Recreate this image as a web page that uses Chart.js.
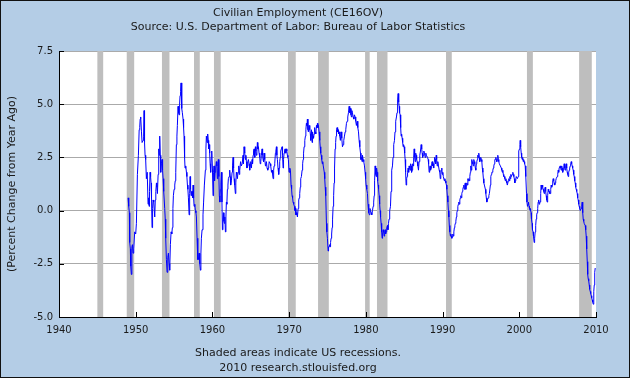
<!DOCTYPE html>
<html lang="en">
<head>
<meta charset="UTF-8">
<title>Civilian Employment (CE16OV)</title>
<script src="https://cdn.jsdelivr.net/npm/chart.js"></script>
<style>
  html, body { margin: 0; padding: 0; background: #b4cde6; }
  canvas { display: block; }
</style>
</head>
<body>
<canvas id="employmentChart" width="630" height="378"></canvas>
<script>
// percent change from year ago (decimal years)
const years = [
  1949.00, 1949.09, 1949.17, 1949.22, 1949.30, 1949.35, 1949.43, 1949.50, 1949.57, 1949.65, 1949.74, 1949.87,
  1950.00, 1950.09, 1950.22, 1950.35, 1950.45, 1950.52, 1950.58, 1950.65, 1950.75, 1950.83, 1950.96,
  1951.03, 1951.09, 1951.15, 1951.22, 1951.30, 1951.39, 1951.50, 1951.61, 1951.68, 1951.74, 1951.80, 1951.87, 1951.94,
  1952.00, 1952.06, 1952.13, 1952.20, 1952.26, 1952.35, 1952.48, 1952.55, 1952.62, 1952.70, 1952.76, 1952.83, 1952.92,
  1953.00, 1953.06, 1953.13, 1953.20, 1953.26, 1953.35, 1953.43, 1953.50, 1953.57, 1953.65, 1953.78, 1953.85, 1953.91,
  1954.00, 1954.09, 1954.18, 1954.26, 1954.35, 1954.43, 1954.52, 1954.61, 1954.70, 1954.78, 1954.85, 1954.91,
  1955.00, 1955.09, 1955.15, 1955.22, 1955.30, 1955.37, 1955.43, 1955.52, 1955.58, 1955.65, 1955.72, 1955.78, 1955.85, 1955.91,
  1956.00, 1956.08, 1956.17, 1956.24, 1956.30, 1956.37, 1956.43, 1956.52, 1956.61, 1956.67, 1956.74, 1956.80, 1956.87, 1956.96,
  1957.03, 1957.09, 1957.15, 1957.22, 1957.28, 1957.35, 1957.42, 1957.48, 1957.55, 1957.61, 1957.70, 1957.78, 1957.85, 1957.91,
  1958.00, 1958.09, 1958.18, 1958.26, 1958.35, 1958.43, 1958.50, 1958.56, 1958.65, 1958.77, 1958.85, 1958.95,
  1959.08, 1959.15, 1959.21, 1959.30, 1959.38, 1959.45, 1959.51, 1959.58, 1959.64, 1959.70, 1959.77, 1959.85, 1959.91,
  1960.00, 1960.08, 1960.15, 1960.21, 1960.28, 1960.34, 1960.42, 1960.51, 1960.58, 1960.64, 1960.70, 1960.77, 1960.84, 1960.90, 1960.97,
  1961.04, 1961.10, 1961.17, 1961.24, 1961.30, 1961.37, 1961.43, 1961.50, 1961.56, 1961.62, 1961.69, 1961.76, 1961.82, 1961.88, 1961.95,
  1962.02, 1962.08, 1962.17, 1962.25, 1962.32, 1962.38, 1962.47, 1962.56, 1962.62, 1962.69, 1962.76, 1962.82, 1962.90, 1962.99,
  1963.05, 1963.12, 1963.18, 1963.25, 1963.34, 1963.43, 1963.50, 1963.56, 1963.67, 1963.77, 1963.88, 1963.99,
  1964.05, 1964.12, 1964.21, 1964.30, 1964.36, 1964.43, 1964.50, 1964.56, 1964.62, 1964.69, 1964.78, 1964.86, 1964.92, 1964.99,
  1965.08, 1965.17, 1965.23, 1965.30, 1965.36, 1965.43, 1965.52, 1965.60, 1965.66, 1965.73, 1965.80, 1965.86, 1965.92, 1965.99,
  1966.08, 1966.17, 1966.23, 1966.30, 1966.38, 1966.47, 1966.54, 1966.60, 1966.66, 1966.73, 1966.82, 1966.91, 1966.98,
  1967.04, 1967.12, 1967.21, 1967.28, 1967.34, 1967.40, 1967.47, 1967.54, 1967.60, 1967.70, 1967.77, 1967.84, 1967.91, 1967.98,
  1968.04, 1968.12, 1968.21, 1968.27, 1968.34, 1968.40, 1968.47, 1968.55, 1968.64, 1968.70, 1968.77, 1968.84, 1968.90, 1968.99,
  1969.08, 1969.14, 1969.21, 1969.27, 1969.34, 1969.40, 1969.47, 1969.56, 1969.64, 1969.70, 1969.77, 1969.84, 1969.90, 1969.99,
  1970.08, 1970.17, 1970.25, 1970.32, 1970.38, 1970.45, 1970.51, 1970.60, 1970.69, 1970.76, 1970.82, 1970.88, 1970.95,
  1971.02, 1971.08, 1971.17, 1971.25, 1971.32, 1971.38, 1971.45, 1971.51, 1971.60, 1971.69, 1971.76, 1971.82, 1971.88, 1971.95,
  1972.04, 1972.12, 1972.18, 1972.25, 1972.32, 1972.38, 1972.45, 1972.51, 1972.60, 1972.69, 1972.76, 1972.82, 1972.90, 1972.99,
  1973.05, 1973.12, 1973.18, 1973.25, 1973.32, 1973.38, 1973.47, 1973.56, 1973.62, 1973.69, 1973.75, 1973.82, 1973.90, 1973.99,
  1974.05, 1974.12, 1974.18, 1974.25, 1974.32, 1974.38, 1974.45, 1974.51, 1974.58, 1974.64, 1974.70, 1974.77, 1974.86, 1974.92, 1974.99,
  1975.08, 1975.14, 1975.21, 1975.28, 1975.34, 1975.40, 1975.47, 1975.54, 1975.60, 1975.66, 1975.73, 1975.80, 1975.86, 1975.92, 1975.99,
  1976.06, 1976.12, 1976.18, 1976.25, 1976.32, 1976.38, 1976.44, 1976.51, 1976.60, 1976.68, 1976.77, 1976.86, 1976.95,
  1977.04, 1977.12, 1977.21, 1977.30, 1977.38, 1977.47, 1977.56, 1977.64, 1977.73, 1977.82, 1977.90, 1977.99,
  1978.06, 1978.12, 1978.18, 1978.25, 1978.34, 1978.43, 1978.51, 1978.60, 1978.68, 1978.77, 1978.86, 1978.95,
  1979.04, 1979.12, 1979.21, 1979.30, 1979.36, 1979.43, 1979.50, 1979.56, 1979.64, 1979.73, 1979.82, 1979.90, 1979.97,
  1980.03, 1980.12, 1980.21, 1980.28, 1980.34, 1980.40, 1980.47, 1980.54, 1980.60, 1980.68, 1980.77, 1980.86, 1980.95,
  1981.02, 1981.08, 1981.14, 1981.21, 1981.28, 1981.34, 1981.40, 1981.47, 1981.54, 1981.60, 1981.66, 1981.73, 1981.80, 1981.86, 1981.92, 1981.99,
  1982.06, 1982.12, 1982.18, 1982.25, 1982.32, 1982.38, 1982.45, 1982.51, 1982.58, 1982.64, 1982.72, 1982.82, 1982.88, 1982.95,
  1983.02, 1983.08, 1983.14, 1983.21, 1983.28, 1983.34, 1983.40, 1983.47, 1983.54, 1983.60, 1983.66, 1983.73, 1983.80, 1983.86, 1983.92, 1983.99,
  1984.06, 1984.12, 1984.16, 1984.21, 1984.28, 1984.34, 1984.40, 1984.47, 1984.54, 1984.60, 1984.66, 1984.73, 1984.80, 1984.86, 1984.92, 1984.99,
  1985.06, 1985.12, 1985.18, 1985.25, 1985.32, 1985.38, 1985.44, 1985.51, 1985.58, 1985.64, 1985.70, 1985.77, 1985.84, 1985.90, 1985.96,
  1986.03, 1986.10, 1986.17, 1986.23, 1986.30, 1986.36, 1986.43, 1986.50, 1986.56, 1986.62, 1986.69, 1986.78, 1986.86, 1986.94,
  1987.03, 1987.12, 1987.21, 1987.28, 1987.34, 1987.40, 1987.47, 1987.56, 1987.64, 1987.73, 1987.82, 1987.88, 1987.95,
  1988.04, 1988.12, 1988.18, 1988.25, 1988.32, 1988.38, 1988.44, 1988.51, 1988.58, 1988.64, 1988.70, 1988.77, 1988.84, 1988.90, 1988.96,
  1989.03, 1989.10, 1989.17, 1989.23, 1989.30, 1989.38, 1989.47, 1989.56, 1989.64, 1989.70, 1989.77, 1989.84, 1989.90, 1989.96,
  1990.03, 1990.10, 1990.17, 1990.23, 1990.30, 1990.36, 1990.43, 1990.50, 1990.56, 1990.62, 1990.69, 1990.76, 1990.82, 1990.88, 1990.95,
  1991.02, 1991.08, 1991.14, 1991.21, 1991.28, 1991.34, 1991.40, 1991.47, 1991.54, 1991.60, 1991.66, 1991.73, 1991.80, 1991.86, 1991.92, 1991.99,
  1992.06, 1992.12, 1992.18, 1992.25, 1992.32, 1992.38, 1992.44, 1992.51, 1992.58, 1992.64, 1992.70, 1992.77, 1992.84, 1992.90, 1992.96,
  1993.03, 1993.10, 1993.17, 1993.23, 1993.30, 1993.36, 1993.43, 1993.49, 1993.55, 1993.62, 1993.68, 1993.74, 1993.81, 1993.88, 1993.94,
  1994.00, 1994.07, 1994.14, 1994.20, 1994.27, 1994.33, 1994.40, 1994.46, 1994.53, 1994.59, 1994.66, 1994.72, 1994.79, 1994.85, 1994.92, 1994.98,
  1995.05, 1995.12, 1995.18, 1995.25, 1995.32, 1995.38, 1995.45, 1995.51, 1995.58, 1995.64, 1995.70, 1995.77, 1995.84, 1995.90, 1995.96,
  1996.03, 1996.10, 1996.16, 1996.23, 1996.29, 1996.36, 1996.42, 1996.49, 1996.55, 1996.62, 1996.68, 1996.75, 1996.81, 1996.88, 1996.94,
  1997.01, 1997.07, 1997.14, 1997.20, 1997.27, 1997.33, 1997.40, 1997.46, 1997.53, 1997.59, 1997.66, 1997.72, 1997.79, 1997.85, 1997.92, 1997.98,
  1998.05, 1998.12, 1998.18, 1998.25, 1998.31, 1998.38, 1998.44, 1998.51, 1998.57, 1998.64, 1998.70, 1998.77, 1998.83, 1998.90, 1998.96,
  1999.03, 1999.09, 1999.16, 1999.22, 1999.29, 1999.35, 1999.42, 1999.48, 1999.55, 1999.61, 1999.68, 1999.74, 1999.81, 1999.86, 1999.90, 1999.96,
  2000.03, 2000.08, 2000.12, 2000.18, 2000.25, 2000.31, 2000.38, 2000.44, 2000.51, 2000.57, 2000.64, 2000.70, 2000.77, 2000.85, 2000.94,
  2001.00, 2001.07, 2001.14, 2001.20, 2001.27, 2001.33, 2001.40, 2001.46, 2001.53, 2001.59, 2001.66, 2001.72, 2001.79, 2001.85, 2001.94,
  2002.00, 2002.07, 2002.14, 2002.20, 2002.27, 2002.33, 2002.40, 2002.46, 2002.53, 2002.59, 2002.66, 2002.72, 2002.79, 2002.85, 2002.92, 2002.98,
  2003.05, 2003.12, 2003.18, 2003.25, 2003.31, 2003.38, 2003.44, 2003.51, 2003.57, 2003.64, 2003.70, 2003.77, 2003.84, 2003.90, 2003.97,
  2004.03, 2004.10, 2004.16, 2004.23, 2004.29, 2004.36, 2004.42, 2004.49, 2004.55, 2004.62, 2004.68, 2004.75, 2004.81, 2004.88, 2004.94,
  2005.01, 2005.07, 2005.14, 2005.20, 2005.27, 2005.33, 2005.40, 2005.46, 2005.53, 2005.59, 2005.66, 2005.72, 2005.79, 2005.85, 2005.92, 2005.98,
  2006.05, 2006.12, 2006.18, 2006.25, 2006.31, 2006.38, 2006.44, 2006.51, 2006.57, 2006.64, 2006.70, 2006.77, 2006.83, 2006.90, 2006.96,
  2007.03, 2007.10, 2007.16, 2007.23, 2007.29, 2007.36, 2007.42, 2007.49, 2007.55, 2007.62, 2007.68, 2007.75, 2007.81, 2007.88, 2007.94,
  2008.01, 2008.07, 2008.14, 2008.20, 2008.27, 2008.33, 2008.40, 2008.46, 2008.53, 2008.59, 2008.66, 2008.72, 2008.77, 2008.81, 2008.86, 2008.90, 2008.94, 2008.98,
  2009.05, 2009.12, 2009.18, 2009.25, 2009.31, 2009.38, 2009.44, 2009.51, 2009.57, 2009.64, 2009.70, 2009.72, 2009.77, 2009.81, 2009.86, 2009.90
];
const pctChange = [
  0.6, 0.2, -0.1, -1.5, -1.8, -2.6, -3.0, -1.7, -1.6, -2.0, -1.8, -1.0,
  -1.1, -0.6, 1.7, 2.6, 3.8, 3.9, 4.3, 4.4, 3.7, 3.2, 3.3,
  3.5, 4.7, 3.2, 2.6, 2.4, 1.5, 1.8, 0.3, 0.6, 0.2, 0.9, 1.8, 1.6,
  1.3, 0.6, -0.8, 0.1, 0.5, 0.4, -0.3, 0.5, 0.9, 1.3, 1.1, 0.8, 1.7,
  2.9, 2.6, 3.5, 2.6, 1.8, 2.2, 2.4, 1.9, 1.5, 0.9, 0.1, -0.4, -1.3,
  -2.3, -2.9, -2.2, -2.0, -2.5, -2.8, -1.6, -1.0, -1.1, -0.8, 0.1, 0.7,
  1.0, 1.2, 1.4, 1.8, 3.1, 3.5, 4.0, 4.9, 4.6, 4.5, 5.0, 5.4, 5.6, 6.0,
  4.8, 4.6, 4.3, 3.9, 3.5, 2.5, 2.0, 2.1, 1.8, 1.6, 1.2, 1.0, 0.6, -0.2,
  0.8, 1.6, 1.0, 0.7, 0.9, 0.9, 0.6, 1.2, 0.6, 0.2, 0.3, 0.0, -0.1, -0.3,
  -1.3, -2.3, -2.3, -2.0, -2.5, -2.8, -2.0, -1.3, -0.9, -0.2, 0.4, 1.2,
  1.9, 2.9, 3.5, 3.2, 3.6, 3.3, 2.9, 3.1, 2.7, 2.2, 1.8, 2.5, 2.8,
  2.0, 0.7, 1.8, 2.1, 1.4, 1.8, 2.0, 2.3, 2.1, 1.5, 1.9, 2.4, 1.6, 0.7, 0.4,
  1.0, 1.3, 1.8, 0.4, -0.9, -0.4, -0.1, -0.5, -0.6, -0.3, -1.0, -0.3, 0.4, 0.3, 1.0,
  1.2, 1.5, 1.6, 1.9, 1.6, 1.2, 1.4, 1.8, 2.1, 2.5, 2.0, 1.5, 1.2, 0.8,
  1.3, 1.8, 1.7, 1.5, 1.8, 2.1, 1.7, 1.9, 2.3, 2.1, 2.2, 2.6,
  2.2, 3.0, 2.7, 2.4, 2.6, 2.3, 2.0, 2.1, 2.3, 2.4, 2.2, 1.9, 2.1, 2.3,
  2.0, 2.4, 2.2, 2.6, 2.8, 2.9, 2.5, 3.0, 2.8, 2.6, 2.8, 3.2, 2.9, 3.0,
  2.7, 2.5, 2.2, 2.3, 2.6, 2.9, 2.6, 2.4, 2.3, 2.7, 2.4, 2.1, 2.2,
  2.3, 2.0, 1.9, 2.0, 2.1, 2.3, 2.3, 2.2, 2.1, 1.8, 1.9, 1.7, 1.5, 1.9,
  2.1, 2.2, 2.7, 2.8, 3.0, 2.6, 2.4, 2.0, 1.7, 2.0, 2.3, 2.5, 2.8, 2.9,
  3.0, 2.6, 2.0, 2.4, 2.7, 2.8, 2.9, 2.7, 2.9, 2.8, 2.6, 2.5, 2.4, 1.8,
  2.0, 1.9, 1.2, 1.0, 0.7, 0.6, 0.4, 0.3, 0.2, 0.0, 0.1, -0.2, -0.1,
  -0.2, -0.3, 0.1, 0.5, 0.6, 0.8, 1.1, 1.5, 1.6, 1.9, 2.2, 2.4, 2.7, 3.0,
  3.3, 3.5, 3.8, 4.1, 4.0, 4.3, 3.8, 3.7, 4.0, 3.8, 3.6, 3.3, 3.8, 3.2,
  3.7, 3.5, 3.4, 3.6, 3.9, 3.7, 3.6, 4.0, 3.9, 4.1, 3.9, 4.0, 3.7, 3.3,
  3.0, 2.7, 2.6, 2.4, 2.2, 2.3, 2.1, 2.1, 1.8, 1.5, 1.1, 0.7, -0.6, -1.0, -1.3,
  -1.9, -1.7, -1.7, -1.6, -1.7, -1.5, -1.3, -1.1, -0.8, -0.4, 0.2, 0.7, 1.3, 2.0, 2.9,
  3.2, 3.5, 3.8, 3.9, 3.7, 3.8, 3.6, 3.7, 3.5, 3.3, 3.7, 3.4, 3.0,
  3.1, 3.3, 3.5, 3.7, 3.8, 4.1, 4.2, 4.4, 4.6, 4.9, 4.6, 4.8,
  4.5, 4.4, 4.7, 4.6, 4.4, 4.3, 4.5, 4.4, 4.2, 4.0, 4.2, 3.9,
  3.7, 3.3, 3.0, 2.7, 2.4, 2.5, 2.3, 2.6, 2.4, 2.3, 2.1, 1.8, 1.5,
  1.2, 1.0, 0.8, 0.3, 0.1, -0.1, -0.2, 0.1, 0.0, -0.1, -0.2, 0.0, 0.2,
  0.4, 0.7, 1.4, 2.1, 1.7, 1.6, 2.0, 1.8, 1.4, 1.2, 1.0, 0.7, 0.3, 0.0, -0.3, -0.6,
  -1.0, -1.3, -1.1, -0.9, -1.0, -1.2, -1.0, -0.9, -1.1, -1.0, -0.8, -0.7, -0.9, -0.6,
  -0.4, -0.1, 0.0, 0.2, 0.9, 1.5, 1.9, 2.1, 2.5, 2.9, 3.1, 3.3, 3.7, 4.0, 4.2, 4.4,
  4.6, 4.9, 5.2, 5.5, 5.1, 4.9, 4.6, 4.5, 3.9, 3.5, 3.6, 3.4, 3.2, 3.0, 3.1, 3.0,
  2.7, 2.4, 1.8, 1.2, 1.5, 1.6, 1.8, 2.0, 1.8, 2.1, 2.0, 1.9, 2.2, 2.1, 1.8,
  1.9, 2.2, 2.1, 2.5, 2.9, 2.5, 2.3, 2.7, 2.6, 2.4, 2.3, 2.1, 1.9, 2.3,
  2.6, 2.8, 3.1, 2.9, 2.7, 2.5, 2.6, 2.8, 2.7, 2.5, 2.7, 2.6, 2.6,
  2.5, 2.4, 2.2, 1.8, 2.0, 2.1, 1.9, 2.0, 2.2, 2.3, 2.1, 2.2, 2.0, 2.3, 2.5,
  2.4, 2.2, 2.6, 2.4, 2.1, 2.3, 2.1, 1.9, 1.8, 1.5, 1.7, 1.9, 2.0, 1.7,
  1.8, 1.6, 1.6, 1.4, 1.5, 1.4, 1.3, 1.2, 1.0, 0.7, 0.4, 0.0, -0.3, -0.7, -1.0,
  -1.2, -1.1, -1.2, -1.3, -1.2, -1.1, -1.2, -1.0, -0.8, -0.7, -0.6, -0.5, -0.3, -0.1, 0.0, 0.2,
  0.3, 0.4, 0.3, 0.5, 0.6, 0.7, 0.6, 0.8, 0.9, 1.0, 1.1, 1.2, 1.0, 1.2, 1.3,
  1.0, 1.2, 1.3, 1.2, 1.5, 1.4, 1.5, 1.4, 1.6, 1.8, 2.1, 1.9, 2.4, 2.2, 2.3,
  2.1, 2.4, 2.3, 2.2, 2.0, 1.9, 2.2, 2.3, 2.4, 2.6, 2.5, 2.7, 2.5, 2.3, 2.4, 2.5,
  2.4, 2.3, 2.0, 1.8, 1.5, 1.3, 1.2, 1.2, 1.0, 0.8, 0.6, 0.4, 0.5, 0.5, 0.6,
  0.7, 0.8, 0.8, 1.2, 1.6, 1.7, 1.8, 1.8, 1.9, 2.0, 2.1, 2.2, 2.4, 2.4, 2.5,
  2.4, 2.3, 2.4, 2.6, 2.4, 2.3, 2.2, 2.2, 2.1, 2.1, 2.0, 1.9, 1.8, 1.9, 1.7, 1.6,
  1.6, 1.5, 1.4, 1.5, 1.4, 1.3, 1.2, 1.2, 1.4, 1.5, 1.4, 1.6, 1.5, 1.7, 1.6,
  1.6, 1.7, 1.8, 1.7, 1.6, 1.5, 1.3, 1.4, 1.5, 1.6, 1.6, 1.5, 1.5, 1.6, 2.7, 2.8,
  2.9, 3.1, 3.3, 3.0, 2.7, 2.5, 2.4, 2.5, 2.3, 2.4, 2.3, 2.2, 2.1, 1.6, 0.8,
  0.4, 0.2, 0.3, 0.4, 0.2, 0.1, 0.0, 0.1, -0.1, -0.4, -0.6, -0.9, -1.0, -1.2, -1.5,
  -1.3, -1.0, -0.7, -0.4, -0.2, -0.1, 0.1, 0.4, 0.5, 0.3, 0.4, 0.4, 0.8, 1.2, 1.0, 1.2,
  1.1, 1.0, 0.9, 0.8, 1.0, 1.1, 0.9, 0.7, 0.5, 0.4, 0.7, 1.0, 0.9, 0.9, 0.8,
  0.8, 1.0, 1.2, 1.1, 1.2, 1.4, 1.5, 1.4, 1.3, 1.2, 1.3, 1.4, 1.5, 1.5, 1.6,
  1.7, 1.9, 1.8, 2.0, 2.0, 2.1, 2.0, 1.9, 2.1, 2.0, 1.8, 1.9, 2.0, 2.2, 2.0, 1.9,
  2.1, 2.2, 2.0, 1.8, 1.7, 1.6, 1.8, 1.9, 2.0, 2.1, 2.2, 2.3, 2.2, 2.1, 2.0,
  1.9, 1.7, 1.6, 1.4, 1.3, 1.1, 1.0, 0.9, 0.8, 0.6, 0.5, 0.3, 0.2, 0.1, 0.0,
  0.0, 0.1, 0.2, 0.4, -0.1, -0.4, -0.5, -0.6, -0.6, -0.7, -0.9, -1.2, -1.5, -1.8, -2.4, -2.9, -3.0, -3.2,
  -3.3, -3.5, -3.7, -3.8, -3.9, -4.0, -4.1, -4.2, -4.3, -4.4, -4.2, -3.8, -3.5, -3.2, -2.9, -2.7
];

// NBER recessions as shaded on the chart
const recessionStart = [1945.0, 1948.83, 1953.42, 1957.6, 1960.2, 1969.85, 1973.77, 1979.9, 1981.45, 1990.45, 2001.0, 2007.8];
const recessionEnd   = [1945.76, 1949.8, 1954.4, 1958.35, 1961.08, 1970.86, 1975.17, 1980.5, 1982.82, 1991.2, 2001.77, 2009.45];

const xTickYears = [1940, 1950, 1960, 1970, 1980, 1990, 2000, 2010];
const yTickValues = [-5, -2.5, 0, 2.5, 5, 7.5];

const fontFamily = "'DejaVu Sans', Verdana, sans-serif";
const textColor = '#1a1a1a';

// background, recession bars, inside tick marks, outer frame
const fredFrame = {
    id: 'fredFrame',
    beforeDraw(chart) {
        const { ctx, chartArea: a, width, height } = chart;
        ctx.save();
        ctx.fillStyle = '#b4cde6';
        ctx.fillRect(0, 0, width, height);
        ctx.fillStyle = '#ffffff';
        ctx.fillRect(a.left, a.top, a.right - a.left, a.bottom - a.top);
        ctx.restore();
    },
    beforeDatasetsDraw(chart) {
        const { ctx, chartArea: a, scales: { x, y } } = chart;
        ctx.save();
        ctx.fillStyle = '#bebebe';
        recessionStart.forEach((s, i) => {
            const x0 = x.getPixelForValue(s);
            const x1 = x.getPixelForValue(recessionEnd[i]);
            ctx.fillRect(x0, a.top, x1 - x0, a.bottom - a.top);
        });
        ctx.strokeStyle = '#000000';
        ctx.lineWidth = 1;
        ctx.beginPath();
        xTickYears.forEach(v => {
            const px = Math.round(x.getPixelForValue(v)) + 0.5;
            ctx.moveTo(px, a.bottom);
            ctx.lineTo(px, a.bottom - 5);
        });
        yTickValues.forEach(v => {
            const py = Math.round(y.getPixelForValue(v)) + 0.5;
            ctx.moveTo(a.left, py);
            ctx.lineTo(a.left + 5, py);
        });
        ctx.stroke();
        ctx.restore();
    },
    afterDraw(chart) {
        const { ctx, width, height } = chart;
        ctx.save();
        ctx.strokeStyle = '#111111';
        ctx.lineWidth = 1;
        ctx.strokeRect(0.5, 0.5, width - 1, height - 1);
        ctx.restore();
    }
};

const points = years.map((yr, i) => ({ x: yr, y: pctChange[i] }));

const ctx = document.getElementById('employmentChart').getContext('2d');
new Chart(ctx, {
    type: 'line',
    data: {
        datasets: [{
            data: points,
            borderColor: '#0000ff',
            borderWidth: 1,
            pointRadius: 0,
            tension: 0,
            fill: false
        }]
    },
    options: {
        responsive: false,
        animation: false,
        layout: { padding: { left: 0, right: 34, top: 0, bottom: 0 } },
        plugins: {
            legend: { display: false },
            tooltip: { enabled: false },
            title: {
                display: true,
                text: ['Civilian Employment (CE16OV)', 'Source: U.S. Department of Labor: Bureau of Labor Statistics'],
                color: textColor,
                font: { family: fontFamily, size: 11, weight: 'normal', lineHeight: 14 / 11 },
                padding: { top: 6, bottom: 17 }
            },
            subtitle: {
                display: true,
                position: 'bottom',
                text: ['Shaded areas indicate US recessions.', '2010 research.stlouisfed.org'],
                color: textColor,
                font: { family: fontFamily, size: 11, weight: 'normal', lineHeight: 15 / 11 },
                padding: { top: 3.5, bottom: 2.5 }
            }
        },
        scales: {
            x: {
                type: 'linear',
                min: 1940,
                max: 2010,
                afterBuildTicks: s => { s.ticks = xTickYears.map(v => ({ value: v })); },
                afterFit: s => { s.height = 25; },
                grid: { display: false, drawTicks: false },
                border: { display: true, color: '#000000', width: 1 },
                ticks: {
                    callback: v => String(v),
                    color: textColor,
                    font: { family: fontFamily, size: 10 },
                    padding: 7,
                    maxRotation: 0,
                    autoSkip: false
                }
            },
            y: {
                min: -5,
                max: 7.5,
                afterBuildTicks: s => { s.ticks = yTickValues.map(v => ({ value: v })); },
                afterFit: s => { s.width = 59; },
                grid: { color: '#aaaaaa', drawTicks: false },
                border: { display: true, color: '#000000', width: 1 },
                ticks: {
                    callback: v => v.toFixed(1),
                    color: textColor,
                    font: { family: fontFamily, size: 10 },
                    padding: 6
                },
                title: {
                    display: true,
                    text: '(Percent Change from Year Ago)',
                    color: textColor,
                    font: { family: fontFamily, size: 11 },
                    padding: { top: 6, bottom: 0 }
                }
            }
        }
    },
    plugins: [fredFrame]
});
</script>
</body>
</html>
